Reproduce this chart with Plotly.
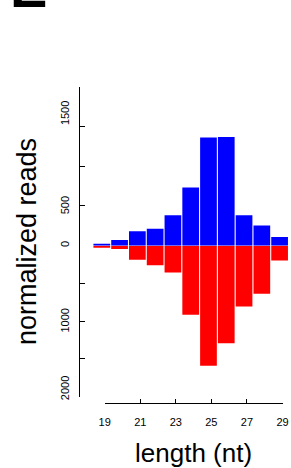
import plotly.graph_objects as go

# ---- data ----
lengths = [19, 20, 21, 22, 23, 24, 25, 26, 27, 28, 29]
plus_reads = [25, 71, 183, 212, 383, 733, 1362, 1367, 383, 254, 108]
minus_reads = [22, 45, 187, 258, 356, 913, 1589, 1291, 806, 637, 196]
y_top_ticks = [0, 500, 1000, 1500, 2000]
y_bot_ticks = [-2000, -1500, -1000, -500, 0]
# label anchor positions as they sit in the reference (not exactly on ticks)
y_top_label_pos = [0, 490, 1650]
y_top_labels = ["0", "500", "1500"]
y_bot_label_pos = [-1905, -1010]
y_bot_labels = ["2000", "1000"]
x_ticks = [19, 21, 23, 25, 27, 29]
x_labels = ["19", "21", "23", "25", "27", "29"]

W, H = 291, 468
FONT = "Liberation Sans, Arial, Helvetica, sans-serif"


def px(x):
    return x / W


def py(y):
    return 1 - y / H


fig = go.Figure()
fig.add_trace(go.Bar(x=lengths, y=plus_reads, marker=dict(color="#0000FF", line=dict(width=0)),
                     xaxis="x", yaxis="y", showlegend=False))
fig.add_trace(go.Bar(x=lengths, y=[-v for v in minus_reads], marker=dict(color="#FF0000", line=dict(width=0)),
                     xaxis="x", yaxis="y2", showlegend=False))
# carrier traces for the separate (R-style) axes
for xa, ya in (("x2", "y"), ("x", "y3"), ("x", "y4")):
    fig.add_trace(go.Scatter(x=[None], y=[None], xaxis=xa, yaxis=ya, showlegend=False,
                             hoverinfo="skip"))

yax = dict(anchor="free", position=px(78.5), showline=True, linecolor="black", linewidth=1.2,
           ticks="inside", ticklen=5, tickwidth=1.2, tickcolor="black", showgrid=False,
           zeroline=False, showticklabels=False, automargin=False)
ylab = dict(anchor="free", position=px(78.5), showline=False, ticks="", showgrid=False,
            zeroline=False, tickangle=-90, tickfont=dict(family=FONT, size=11, color="black"),
            ticklabelstandoff=7, automargin=False)

fig.update_layout(
    width=W, height=H, margin=dict(l=0, r=0, t=0, b=0, autoexpand=False),
    paper_bgcolor="white", plot_bgcolor="rgba(0,0,0,0)",
    barmode="overlay", bargap=0.06, showlegend=False,
    xaxis=dict(domain=[px(80), 1], range=[17.774, 29.641], visible=False, anchor="y"),
    xaxis2=dict(domain=[px(104.7), px(282.5)], range=[19, 29], anchor="free", position=py(403.3),
                showline=True, linecolor="black", linewidth=1.2, ticks="inside", ticklen=4,
                tickwidth=1.2, tickcolor="black", showgrid=False, zeroline=False,
                tickvals=x_ticks, ticktext=x_labels, automargin=False,
                tickfont=dict(family=FONT, size=11, color="black"), ticklabelstandoff=8),
    yaxis=dict(domain=[py(245.7), py(86.7)], range=[0, 2000], tickvals=y_top_ticks, **yax),
    yaxis2=dict(domain=[py(396.7), py(245.7)], range=[-2000, 0], tickvals=y_bot_ticks, **yax),
    yaxis3=dict(overlaying="y", range=[0, 2000], tickvals=y_top_label_pos,
                ticktext=y_top_labels, **ylab),
    yaxis4=dict(overlaying="y2", range=[-2000, 0], tickvals=y_bot_label_pos,
                ticktext=y_bot_labels, **ylab),
    annotations=[
        dict(text="length (nt)", x=px(193), y=py(452.5), xref="paper", yref="paper",
             xanchor="center", yanchor="middle", showarrow=False,
             font=dict(family=FONT, size=26, color="black")),
        dict(text="normalized reads", x=px(27), y=py(242), xref="paper", yref="paper",
             xanchor="center", yanchor="middle", showarrow=False, textangle=-90,
             font=dict(family=FONT, size=27, color="black")),
        dict(text="<b>E</b>", x=px(8), y=py(21), xref="paper", yref="paper",
             xanchor="left", yanchor="bottom", showarrow=False,
             font=dict(family=FONT, size=56, color="black")),
    ],
)

fig.write_html("out.html", config={"displayModeBar": False},
               post_script="document.body.style.margin='0';document.body.style.padding='0';")
